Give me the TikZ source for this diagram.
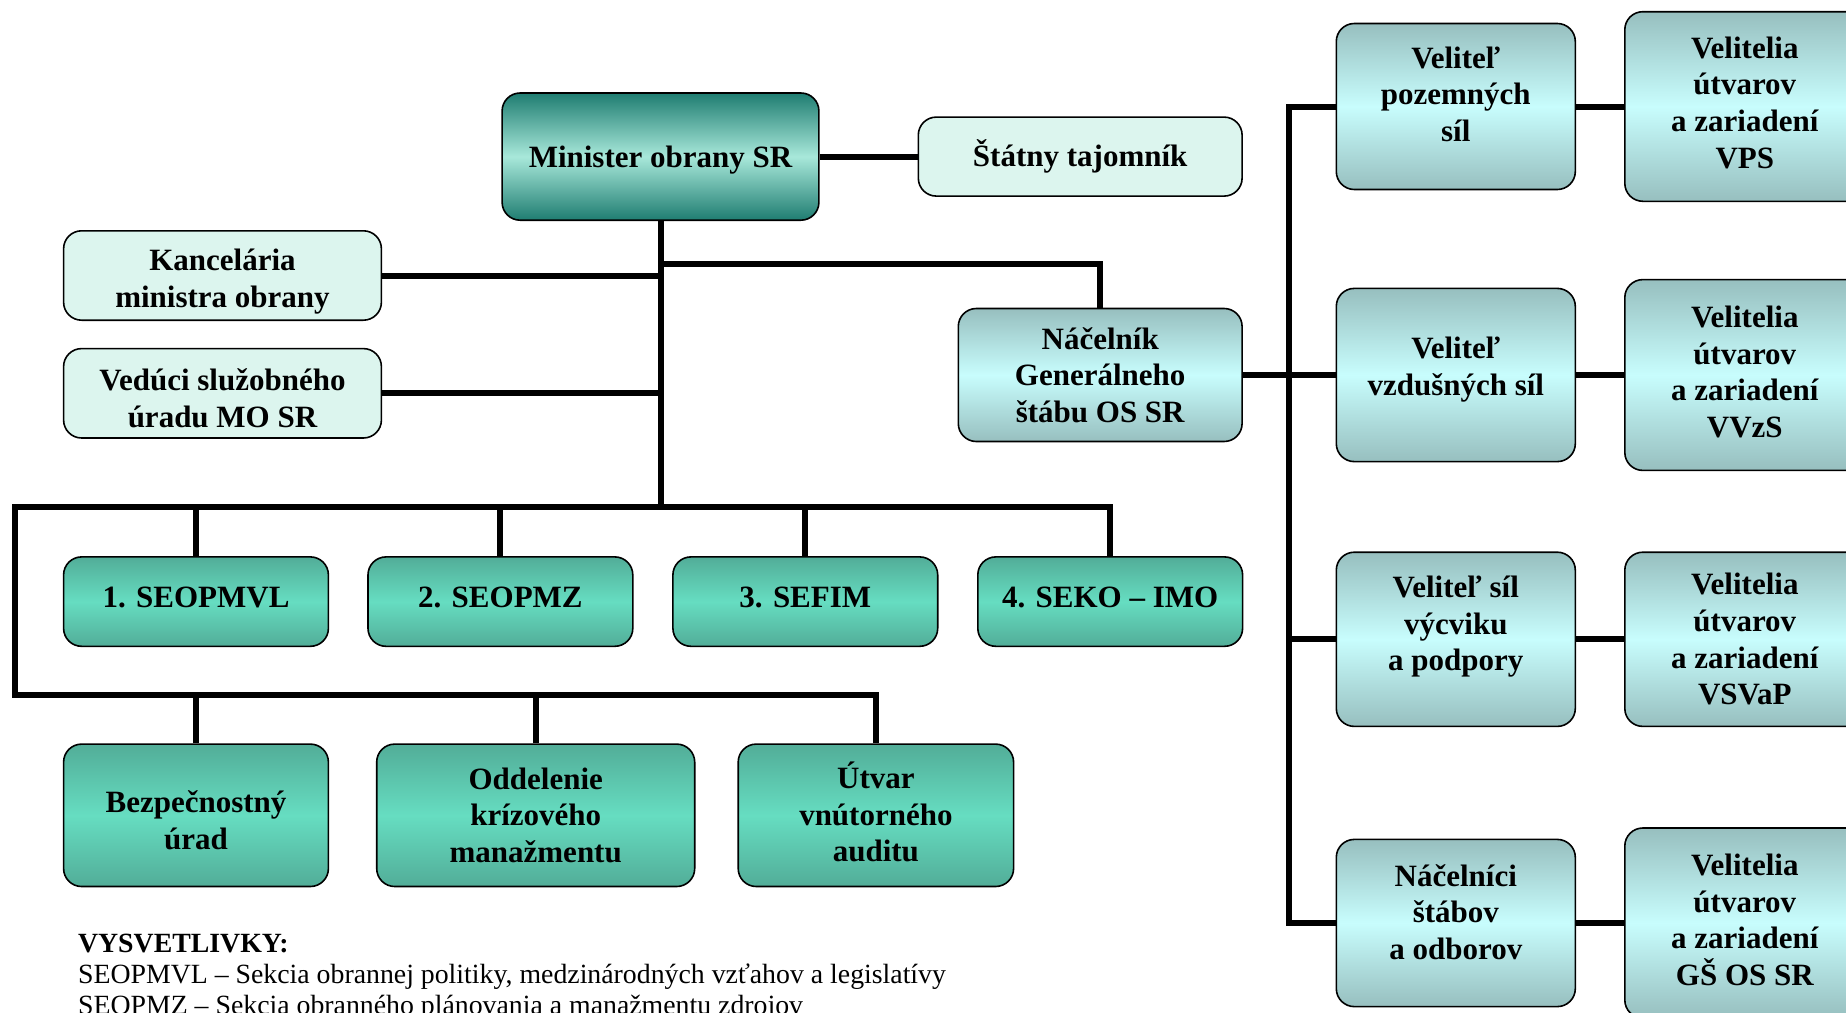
\documentclass[tikz,border=0pt]{standalone}
\usepackage{fontspec}
\setmainfont{Liberation Serif}
\definecolor{mindark}{HTML}{1F7D71}
\definecolor{minlight}{HTML}{A8E8DA}
\definecolor{secdark}{HTML}{52AD98}
\definecolor{seclight}{HTML}{66DDC1}
\definecolor{gsdark}{HTML}{97BFBF}
\definecolor{gslight}{HTML}{C8FDFD}
\definecolor{pale}{HTML}{DCF5EE}
\newcommand{\boxfont}{\bfseries\fontsize{15.5}{18.3}\selectfont}
% empty line below / above the text, to move it up / down in its box
\newcommand{\txtup}[1]{\\[#1]\mbox{}}
\newcommand{\txtdn}[1]{\mbox{}\\[#1]}
\tikzstyle{base} = [rectangle, rounded corners=9pt, draw=black, line width=0.8pt, align=center, inner sep=2pt, font=\boxfont]
\tikzstyle{minbox} = [base, top color=mindark, bottom color=mindark, middle color=minlight]
\tikzstyle{secbox} = [base, top color=secdark, bottom color=secdark, middle color=seclight]
\tikzstyle{gsbox} = [base, top color=gsdark, bottom color=gsdark, middle color=gslight]
\tikzstyle{palebox} = [base, fill=pale]
\tikzstyle{conn} = [line width=3pt]
\tikzstyle{legend} = [align=left, inner sep=0pt, font=\fontsize{13.9}{15.5}\selectfont]

\begin{document}
\begin{tikzpicture}[x=0.5pt, y=-0.5pt]
    \clip (0,0) rectangle (1846,1012);
    % ministry side
    \node [minbox, minimum width=158.4pt, minimum height=63.6pt]		(min)		at (660.5,156.6)	{\txtdn{-4.2pt}Minister obrany SR};
    \node [palebox, minimum width=161.9pt, minimum height=39.5pt]	(stat)		at (1080.2,156.6)	{Štátny tajomník};
    \node [palebox, minimum width=158.9pt, minimum height=44.7pt]	(kanc)		at (222.5,275.5)	{\txtdn{-1.5pt}Kancelária\\ministra obrany};
    \node [palebox, minimum width=158.9pt, minimum height=44.7pt]	(ved)		at (222.5,393.3)	{\txtdn{-2.7pt}Vedúci služobného\\úradu MO SR};
    \node [gsbox, minimum width=141.9pt, minimum height=66.5pt]		(nac)		at (1100.2,375)		{Náčelník\\Generálneho\\štábu OS SR};
    \node [secbox, minimum width=132.4pt, minimum height=44.7pt]		(sek1)		at (196,601.6)		{1. SEOPMVL\txtup{-13.6pt}};
    \node [secbox, minimum width=132.4pt, minimum height=44.7pt]		(sek2)		at (500.4,601.6)	{2. SEOPMZ\txtup{-13.6pt}};
    \node [secbox, minimum width=132.4pt, minimum height=44.7pt]		(sek3)		at (805.3,601.6)	{3. SEFIM\txtup{-13.6pt}};
    \node [secbox, minimum width=132.4pt, minimum height=44.7pt]		(sek4)		at (1110.2,601.6)	{4. SEKO -- IMO\txtup{-13.6pt}};
    \node [secbox, minimum width=132.4pt, minimum height=71.2pt]		(bezp)		at (196,815.3)		{\txtdn{-2.7pt}Bezpečnostný\\úrad};
    \node [secbox, minimum width=159pt, minimum height=71.2pt]		(odd)		at (535.7,815.3)	{Oddelenie\\krízového\\manažmentu};
    \node [secbox, minimum width=137.7pt, minimum height=71.2pt]		(utv)		at (875.9,815.3)	{Útvar\\vnútorného\\auditu\txtup{-14.8pt}};
    % armed forces side
    \node [gsbox, minimum width=119.5pt, minimum height=83pt]		(poz)		at (1455.8,106.5)	{Veliteľ\\pozemných\\síl\txtup{-6pt}};
    \node [gsbox, minimum width=119.5pt, minimum height=86.6pt]		(vzd)		at (1455.8,375)		{Veliteľ\\vzdušných síl\txtup{-9.6pt}};
    \node [gsbox, minimum width=119.5pt, minimum height=87.1pt]		(vyc)		at (1455.8,639.3)	{Veliteľ síl\\výcviku\\a podpory\txtup{-2.5pt}};
    \node [gsbox, minimum width=119.5pt, minimum height=83.6pt]		(nacst)		at (1455.8,923)		{Náčelníci\\štábov\\a odborov\txtup{-7pt}};
    \node [gsbox, minimum width=120pt, minimum height=94.8pt]		(vps)		at (1744.8,106.5)	{Velitelia\\útvarov\\a zariadení\\VPS\txtup{-14.2pt}};
    \node [gsbox, minimum width=120pt, minimum height=95.4pt]		(vvzs)		at (1744.8,375)		{Velitelia\\útvarov\\a zariadení\\VVzS\txtup{-15pt}};
    \node [gsbox, minimum width=120pt, minimum height=87.1pt]		(vsvap)		at (1744.8,639.3)	{Velitelia\\útvarov\\a zariadení\\VSVaP};
    \node [gsbox, minimum width=120pt, minimum height=95pt]			(gs)		at (1744.8,923)		{Velitelia\\útvarov\\a zariadení\\GŠ OS SR\txtup{-15pt}};
    \node [legend, anchor=north west]								(leg)		at (77.7,933.5)		{\textbf{VYSVETLIVKY:}\\SEOPMVL -- Sekcia obrannej politiky, medzinárodných vzťahov a legislatívy\\SEOPMZ -- Sekcia obranného plánovania a manažmentu zdrojov};

    \coordinate (busL) at (15.3,507.4);
    \coordinate (busB) at (15.3,694.6);
    \coordinate (jnac) at (660.5,263.7);
    \coordinate (rbot) at (1289,923);

    \draw [conn] (min.east) -- (stat.west);
    \draw [conn] (min.south) -- (min.south |- busL);
    \draw [conn] (kanc.east) -- (kanc.east -| min.south);
    \draw [conn] (ved.east) -- (ved.east -| min.south);
    \draw [conn] (jnac) -| (nac.north);
    \draw [conn] (sek4.north) |- (busL) -- (busB) -| (utv.north);
    \draw [conn] (sek1.north) -- (sek1.north |- busL);
    \draw [conn] (sek2.north) -- (sek2.north |- busL);
    \draw [conn] (sek3.north) -- (sek3.north |- busL);
    \draw [conn] (bezp.north) -- (bezp.north |- busB);
    \draw [conn] (odd.north) -- (odd.north |- busB);
    \draw [conn] (nac.east) -- (vzd.west);
    \draw [conn] (poz.west) -| (rbot) -- (nacst.west);
    \draw [conn] (vyc.west) -- (vyc.west -| rbot);
    \draw [conn] (poz.east) -- (vps.west);
    \draw [conn] (vzd.east) -- (vvzs.west);
    \draw [conn] (vyc.east) -- (vsvap.west);
    \draw [conn] (nacst.east) -- (gs.west);
\end{tikzpicture}
\end{document}
